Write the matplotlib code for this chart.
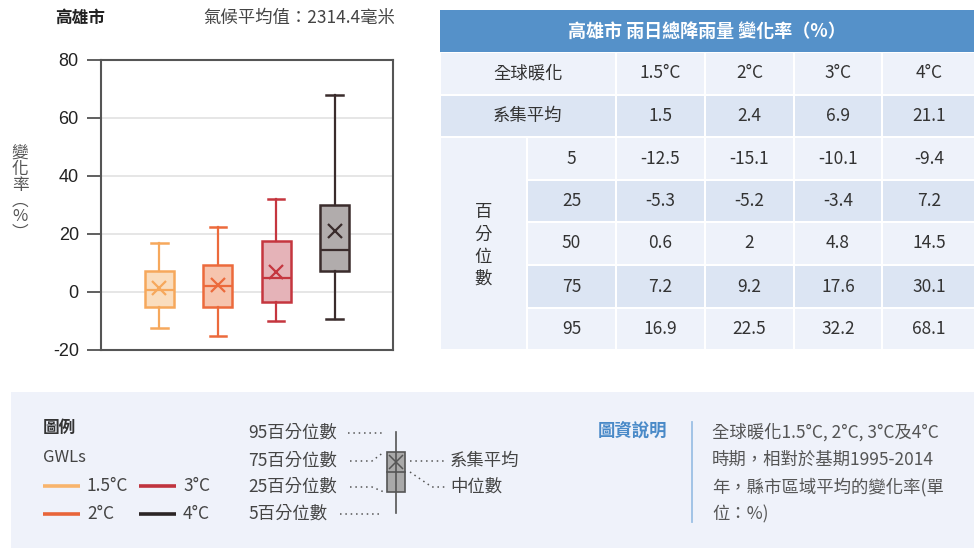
import matplotlib.pyplot as plt
from matplotlib.patches import Rectangle

plt.rcParams['font.family'] = ['Noto Sans CJK TC', 'DejaVu Sans']
plt.rcParams['axes.unicode_minus'] = False

# 高雄市 雨日總降雨量 變化率（%）
gwl_labels = ["1.5°C", "2°C", "3°C", "4°C"]
ens_mean = [1.5, 2.4, 6.9, 21.1]
p5 = [-12.5, -15.1, -10.1, -9.4]
p25 = [-5.3, -5.2, -3.4, 7.2]
p50 = [0.6, 2, 4.8, 14.5]
p75 = [7.2, 9.2, 17.6, 30.1]
p95 = [16.9, 22.5, 32.2, 68.1]
pct_labels = ["5", "25", "50", "75", "95"]

edge_colors = ["#F6A85C", "#EC6A3C", "#C5363F", "#3A2C2C"]
fill_colors = ["#FADDBE", "#F6C4AE", "#E5B3B8", "#B1ACAC"]
legend_colors = ["#F8B46C", "#E8653A", "#C0343E", "#2B2525"]

W, H = 974, 548
fig = plt.figure(figsize=(W / 100, H / 100), dpi=100)

# 背景用的像素座標軸
bg = fig.add_axes([0, 0, 1, 1])
bg.set_xlim(0, W)
bg.set_ylim(H, 0)
bg.axis("off")

# ---- 箱形圖 ----
ax = fig.add_axes([101 / W, 1 - 350 / H, 292 / W, 290 / H])
stats = []
for i in range(len(gwl_labels)):
    stats.append(dict(whislo=p5[i], q1=p25[i], med=p50[i], q3=p75[i],
                      whishi=p95[i], mean=ens_mean[i], fliers=[]))
res = ax.bxp(stats, positions=[1, 2, 3, 4], widths=0.5, patch_artist=True,
             showmeans=True, showfliers=False, manage_ticks=False)
for i in range(4):
    ec = edge_colors[i]
    res["boxes"][i].set(facecolor=fill_colors[i], edgecolor=ec, linewidth=1.8)
    res["medians"][i].set(color=ec, linewidth=1.6)
    for w in res["whiskers"][2 * i:2 * i + 2]:
        w.set(color=ec, linewidth=1.6)
    for c in res["caps"][2 * i:2 * i + 2]:
        c.set(color=ec, linewidth=1.8)
    res["means"][i].set(marker="x", markeredgecolor=ec, markersize=10,
                        markeredgewidth=1.6)
for c in res["caps"]:
    x0, x1 = c.get_xdata()
    m = (x0 + x1) / 2
    c.set_xdata([m - 0.14, m + 0.14])

ax.set_xlim(0, 5)
ax.set_ylim(-20, 80)
ax.set_yticks([-20, 0, 20, 40, 60, 80])
ax.set_xticks([])
ax.tick_params(axis="y", labelsize=13, length=10, width=1.2, color="#444",
               labelcolor="#222", pad=6)
for t in ax.get_yticklabels():
    t.set_family("Liberation Sans")
ax.yaxis.grid(True, color="#E2E2E2", linewidth=1.2)
ax.set_axisbelow(True)
for s in ax.spines.values():
    s.set_color("#555")
    s.set_linewidth(1.5)

bg.text(55, 18, "高雄市", fontsize=12, fontweight="bold", color="#222", va="center")
bg.text(395, 18, "氣候平均值：2314.4毫米", fontsize=12.5, color="#444",
        va="center", ha="right")
bg.text(20, 193, "變\n化\n率\n︵\n%\n︶", fontsize=12, color="#555",
        ha="center", va="center", linespacing=0.92)

# ---- 數據表 ----
light, dark = "#EEF2FA", "#DCE5F3"
col_x = [440, 527, 616, 705, 794, 882, 976]
row_y = [52, 95, 137, 180, 222, 265, 308, 350]
gap = 1.5


def cell(x0, x1, y0, y1, color):
    bg.add_patch(Rectangle((x0 + gap / 2, y0 + gap / 2), x1 - x0 - gap,
                           y1 - y0 - gap, facecolor=color, edgecolor="none"))


bg.add_patch(Rectangle((440, 10), W - 440, 42, facecolor="#5591C9", edgecolor="none"))
bg.text((440 + W) / 2, 31, "高雄市 雨日總降雨量 變化率（%）", color="white",
        fontsize=13, fontweight="bold", ha="center", va="center")

txt = dict(fontsize=12.5, color="#333", ha="center", va="center")
cell(col_x[0], col_x[2], row_y[0], row_y[1], light)
bg.text((col_x[0] + col_x[2]) / 2, (row_y[0] + row_y[1]) / 2, "全球暖化", **txt)
cell(col_x[0], col_x[2], row_y[1], row_y[2], dark)
bg.text((col_x[0] + col_x[2]) / 2, (row_y[1] + row_y[2]) / 2, "系集平均", **txt)
for j in range(4):
    cell(col_x[j + 2], col_x[j + 3], row_y[0], row_y[1], light)
    bg.text((col_x[j + 2] + col_x[j + 3]) / 2, (row_y[0] + row_y[1]) / 2,
            gwl_labels[j], **txt)
    cell(col_x[j + 2], col_x[j + 3], row_y[1], row_y[2], dark)
    bg.text((col_x[j + 2] + col_x[j + 3]) / 2, (row_y[1] + row_y[2]) / 2,
            f"{ens_mean[j]:g}", **txt)

cell(col_x[0], col_x[1], row_y[2], row_y[7], light)
bg.text((col_x[0] + col_x[1]) / 2, (row_y[2] + row_y[7]) / 2 + 2,
        "百\n分\n位\n數", linespacing=1.3, **txt)
pct_rows = [p5, p25, p50, p75, p95]
for r in range(5):
    y0, y1 = row_y[r + 2], row_y[r + 3]
    c = dark if r % 2 == 1 else light
    cell(col_x[1], col_x[2], y0, y1, c)
    bg.text((col_x[1] + col_x[2]) / 2, (y0 + y1) / 2, pct_labels[r], **txt)
    for j in range(4):
        cell(col_x[j + 2], col_x[j + 3], y0, y1, c)
        bg.text((col_x[j + 2] + col_x[j + 3]) / 2, (y0 + y1) / 2,
                f"{pct_rows[r][j]:g}", **txt)

# ---- 圖例與說明 ----
bg.add_patch(Rectangle((11, 392), W - 11, H - 392, facecolor="#EFF2FA", edgecolor="none"))
bg.text(43, 428, "圖例", fontsize=12, fontweight="bold", color="#333", va="center")
bg.text(43, 457, "GWLs", fontsize=12, color="#444", va="center")
leg_pos = [(43, 486), (43, 514), (139, 486), (139, 514)]
for (lx, ly), lab, col in zip(leg_pos, gwl_labels, legend_colors):
    bg.plot([lx, lx + 37], [ly, ly], color=col, linewidth=2.6, solid_capstyle="butt")
    bg.text(lx + 44, ly, lab, fontsize=12.5, color="#444", va="center")

dot = dict(color="#555", linewidth=1.1, linestyle=(0, (1, 2.5)))
lab = dict(fontsize=12.5, color="#444", va="center")
bg.text(248, 433, "95百分位數", **lab)
bg.plot([348, 382], [433, 433], **dot)
bg.text(248, 461, "75百分位數", **lab)
bg.plot([350, 372, 384], [461, 461, 452], **dot)
bg.text(248, 487, "25百分位數", **lab)
bg.plot([350, 372, 384], [487, 487, 492], **dot)
bg.text(248, 514, "5百分位數", **lab)
bg.plot([340, 382], [514, 514], **dot)
bg.plot([396, 396], [432, 513], color="#555", linewidth=1.2)
bg.add_patch(Rectangle((387, 452), 18, 40, facecolor="#A9A9A9", edgecolor="#555", linewidth=1.2))
bg.plot([387, 405], [472, 472], color="#555", linewidth=1.2)
bg.plot([396], [462], marker="x", markersize=10, markeredgecolor="#555", markeredgewidth=1.1)
bg.plot([410, 445], [461, 461], **dot)
bg.text(450, 461, "系集平均", **lab)
bg.plot([410, 432, 445], [472, 487, 487], **dot)
bg.text(450, 487, "中位數", **lab)

bg.text(598, 432, "圖資說明", fontsize=12.5, fontweight="bold", color="#4A8AC8", va="center")
bg.plot([692, 692], [422, 522], color="#9BC0E4", linewidth=1.3)
desc = ["全球暖化1.5°C, 2°C, 3°C及4°C", "時期，相對於基期1995-2014",
        "年，縣市區域平均的變化率(單", "位：%)"]
for k, line in enumerate(desc):
    bg.text(712, 432 + k * 27.5, line, fontsize=12.5, color="#555", va="center")

fig.savefig("out.png", dpi=100)
